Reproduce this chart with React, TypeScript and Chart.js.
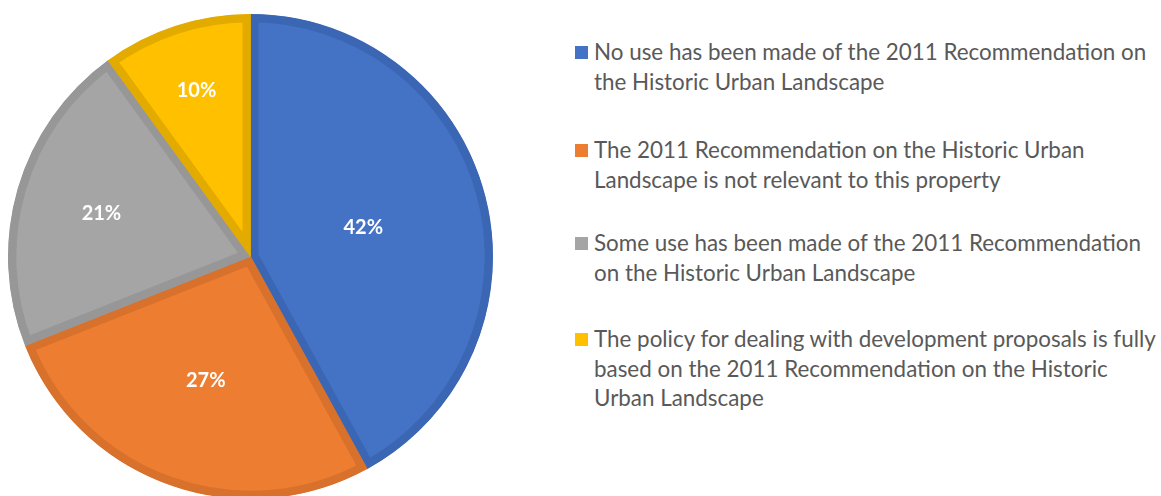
import React, { useEffect, useRef } from "react";
import { Chart, registerables } from "chart.js";

Chart.register(...registerables);

const categories: string[][] = [
  ["No use has been made of the 2011 Recommendation on", "the Historic Urban Landscape"],
  ["The 2011 Recommendation on the Historic Urban", "Landscape is not relevant to this property"],
  ["Some use has been made of the 2011 Recommendation", "on the Historic Urban Landscape"],
  [
    "The policy for dealing with development proposals is fully",
    "based on the 2011 Recommendation on the Historic",
    "Urban Landscape",
  ],
];
const shares = [42, 27, 21, 10];
const fillColors = ["#4472C4", "#ED7D31", "#A5A5A5", "#FFC000"];
const borderColors = ["#3B66B4", "#D8712C", "#979797", "#E3AB00"];

// style only: radial position of the percentage labels (fraction of radius)
const labelRadius = [0.48, 0.545, 0.64, 0.72];
const legendTops = [37, 135, 228, 324];

const pctLabels = {
  id: "pctLabels",
  afterDatasetsDraw(chart: any) {
    const ctx = chart.ctx;
    const meta = chart.getDatasetMeta(0);
    ctx.save();
    ctx.font = "bold 20px Lato";
    ctx.fillStyle = "#FFFFFF";
    ctx.textAlign = "center";
    ctx.textBaseline = "middle";
    meta.data.forEach((arc: any, i: number) => {
      const { x, y, startAngle, endAngle, outerRadius } = arc.getProps(
        ["x", "y", "startAngle", "endAngle", "outerRadius"],
        true
      );
      const mid = (startAngle + endAngle) / 2;
      const r = outerRadius * labelRadius[i];
      ctx.fillText(`${shares[i]}%`, x + Math.cos(mid) * r, y + Math.sin(mid) * r);
    });
    ctx.restore();
  },
};

export default function App() {
  const canvasRef = useRef<HTMLCanvasElement | null>(null);

  useEffect(() => {
    if (!canvasRef.current) return;
    const chart = new Chart(canvasRef.current, {
      type: "pie",
      data: {
        labels: categories,
        datasets: [
          {
            data: shares,
            backgroundColor: fillColors,
            borderColor: borderColors,
            borderWidth: 8,
            borderAlign: "inner",
            hoverBorderWidth: 8,
            hoverOffset: 0,
            offset: 0,
          } as any,
        ],
      },
      options: {
        responsive: false,
        animation: false,
        layout: { padding: 0 },
        plugins: {
          legend: { display: false },
          tooltip: { enabled: false },
        },
        events: [],
      },
      plugins: [pctLabels],
    });
    return () => chart.destroy();
  }, []);

  return (
    <div
      style={{
        position: "fixed",
        inset: 0,
        overflow: "hidden",
        background: "#FFFFFF",
      }}
    >
      <canvas
        ref={canvasRef}
        width={485}
        height={485}
        style={{ position: "absolute", left: 8, top: 14, width: 485, height: 485 }}
      />
      {categories.map((lines, i) => (
        <div
          key={i}
          style={{
            position: "absolute",
            left: 575,
            top: legendTops[i],
            fontFamily: "Lato, 'Open Sans', sans-serif",
            fontSize: 22.4,
            lineHeight: "29.5px",
            color: "#595959",
            whiteSpace: "nowrap",
          }}
        >
          <span
            style={{
              position: "absolute",
              left: 0,
              top: 9,
              width: 13,
              height: 13,
              background: fillColors[i],
            }}
          />
          <div style={{ marginLeft: 19 }}>
            {lines.map((l, j) => (
              <div key={j}>{l}</div>
            ))}
          </div>
        </div>
      ))}
    </div>
  );
}
